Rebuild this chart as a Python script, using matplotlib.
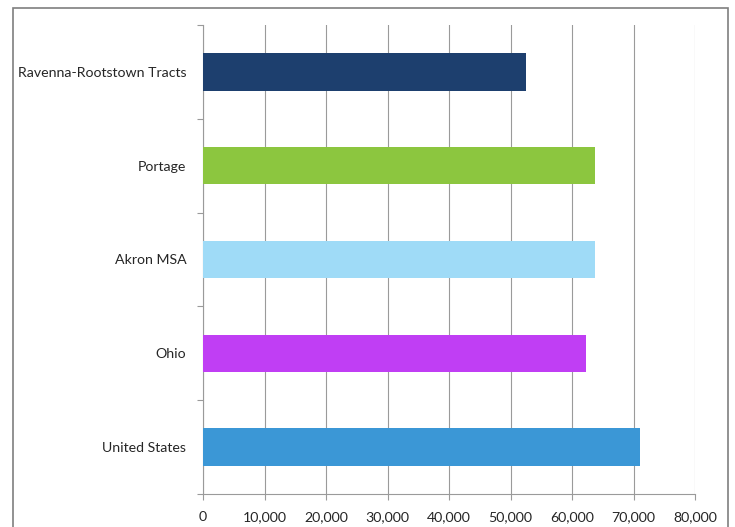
import numpy as np
import matplotlib.pyplot as plt
from matplotlib.patches import Rectangle
from matplotlib.ticker import FuncFormatter

# ── Data (top to bottom as drawn) ─────────────────────────────
areas = ["Ravenna-Rootstown Tracts", "Portage", "Akron MSA", "Ohio", "United States"]
values = [52600, 63700, 63800, 62300, 71000]
colors = ["#1d3f6e", "#8cc63f", "#9fdbf7", "#c03ef4", "#3b97d6"]
x_ticks = [0, 10000, 20000, 30000, 40000, 50000, 60000, 70000, 80000]

plt.rcParams["font.family"] = ["Lato", "DejaVu Sans"]

fig = plt.figure(figsize=(7.35, 5.27), dpi=100)
ax = fig.add_axes([203 / 735, 1 - 494 / 527, (695 - 203) / 735, (494 - 25) / 527])

# outer frame around the chart
fig.patches.append(Rectangle((13 / 735, -0.05), (728 - 13) / 735, 1.05 - 8 / 527,
                             transform=fig.transFigure, fill=False,
                             edgecolor="#7f7f7f", linewidth=1.2))

y = np.arange(len(areas))
ax.barh(y, values, height=0.4, color=colors, zorder=3)

ax.set_ylim(len(areas) - 0.5, -0.5)
ax.set_xlim(0, 80000)
ax.set_xticks(x_ticks)
ax.xaxis.set_major_formatter(FuncFormatter(lambda v, p: f"{int(v):,}"))
ax.set_yticks(y)
ax.set_yticklabels(areas)
ax.set_yticks(np.arange(len(areas) + 1) - 0.5, minor=True)

ax.grid(axis="x", color="#9a9a9a", linewidth=0.8, zorder=0)
for s in ["top", "right"]:
    ax.spines[s].set_visible(False)
for s in ["left", "bottom"]:
    ax.spines[s].set_color("#9a9a9a")
    ax.spines[s].set_linewidth(0.8)

ax.tick_params(axis="y", which="major", length=0, pad=12, labelsize=10.2, labelcolor="#262626")
ax.tick_params(axis="y", which="minor", length=4, color="#9a9a9a", width=0.8)
ax.tick_params(axis="x", length=4, color="#9a9a9a", width=0.8, pad=8, labelsize=10.2,
               labelcolor="#262626")

fig.savefig("out.png", dpi=100)
